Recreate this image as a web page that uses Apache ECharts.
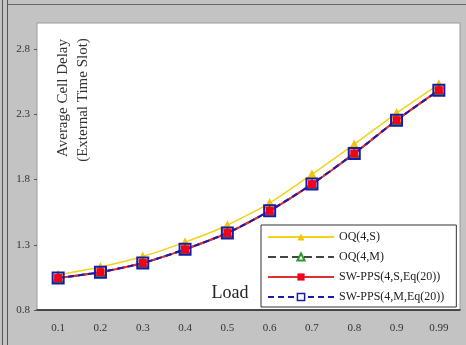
<!DOCTYPE html>
<html>
<head>
<meta charset="utf-8">
<script src="https://cdn.jsdelivr.net/npm/echarts@6/dist/echarts.min.js"></script>
<style>
  html, body { margin: 0; padding: 0; background: #c3c3c3; }
  #main { width: 466px; height: 345px; }
</style>
</head>
<body>
<div id="main"></div>
<script>
// values
var loads = ['0.1', '0.2', '0.3', '0.4', '0.5', '0.6', '0.7', '0.8', '0.9', '0.99'];
var oqS = [1.07, 1.13, 1.21, 1.32, 1.45, 1.62, 1.84, 2.07, 2.31, 2.53];
var oqM = [1.045, 1.09, 1.16, 1.265, 1.39, 1.56, 1.765, 2.0, 2.255, 2.485];
var swS = [1.045, 1.09, 1.16, 1.265, 1.39, 1.56, 1.765, 2.0, 2.255, 2.485];
var swM = [1.045, 1.09, 1.16, 1.265, 1.39, 1.56, 1.765, 2.0, 2.255, 2.485];
var yTicks = [0.8, 1.3, 1.8, 2.3, 2.8];

var serif = '"Liberation Serif", "DejaVu Serif", serif';

var chart = echarts.init(document.getElementById('main'));

var option = {
    backgroundColor: '#c3c3c3',
    animation: false,
    grid: {
        left: 37, right: 6, top: 23, bottom: 35,
        show: true,
        backgroundColor: '#fff',
        borderColor: '#9a9a9a',
        borderWidth: 1
    },
    legend: {
        orient: 'vertical',
        left: 261,
        top: 225,
        padding: [5, 12, 3, 6],
        itemWidth: 66,
        itemHeight: 9,
        itemGap: 6,
        backgroundColor: '#fff',
        borderColor: '#333',
        borderWidth: 1,
        textStyle: { fontFamily: serif, fontSize: 12, color: '#222', lineHeight: 14 },
        data: [
            'OQ(4,S)',
            'OQ(4,M)',
            'SW-PPS(4,S,Eq(20))',
            { name: 'SW-PPS(4,M,Eq(20))', itemStyle: { color: '#fff', borderColor: '#1a1aa8', borderWidth: 1.5 } }
        ]
    },
    xAxis: {
        type: 'category',
        data: loads,
        boundaryGap: true,
        axisLine: { lineStyle: { color: '#222', width: 1.5 } },
        axisTick: { inside: true, length: 4, lineStyle: { color: '#555' } },
        axisLabel: { fontFamily: serif, fontSize: 11, color: '#333', margin: 13 }
    },
    yAxis: {
        type: 'value',
        min: 0.8,
        max: 3.0,
        splitLine: { show: false },
        axisLine: { show: false },
        axisTick: { show: true, length: 3, customValues: yTicks, lineStyle: { color: '#555' } },
        axisLabel: { fontFamily: serif, fontSize: 11, color: '#333', margin: 7, customValues: yTicks }
    },
    graphic: [
        { type: 'line', shape: { x1: 2.5, y1: 0, x2: 2.5, y2: 345 }, style: { stroke: '#555', lineWidth: 1 } },
        { type: 'line', shape: { x1: 7.5, y1: 0, x2: 7.5, y2: 345 }, style: { stroke: '#555', lineWidth: 1 } },
        { type: 'line', shape: { x1: 8, y1: 4.5, x2: 466, y2: 4.5 }, style: { stroke: '#666', lineWidth: 1 } },
        {
            type: 'text', x: 63, y: 98, rotation: Math.PI / 2, z: 10,
            style: { text: 'Average Cell Delay', font: '15px ' + serif, fill: '#333', align: 'center', verticalAlign: 'middle' }
        },
        {
            type: 'text', x: 83, y: 100, rotation: Math.PI / 2, z: 10,
            style: { text: '(External Time Slot)', font: '15px ' + serif, fill: '#333', align: 'center', verticalAlign: 'middle' }
        },
        {
            type: 'text', x: 230, y: 293, z: 10,
            style: { text: 'Load', font: '18px ' + serif, fill: '#222', align: 'center', verticalAlign: 'middle' }
        }
    ],
    series: [
        {
            name: 'OQ(4,S)', type: 'line', data: oqS, smooth: 0.2,
            symbol: 'triangle', symbolSize: 10,
            lineStyle: { color: '#f2d21a', width: 1.5 },
            itemStyle: { color: '#f2c40c' }
        },
        {
            name: 'OQ(4,M)', type: 'line', data: oqM, smooth: 0.2,
            symbol: 'emptyTriangle', symbolSize: 8,
            lineStyle: { color: '#444', width: 2, type: 'dashed' },
            itemStyle: { color: '#2a9a2a', borderColor: '#2a9a2a' }
        },
        {
            name: 'SW-PPS(4,S,Eq(20))', type: 'line', data: swS, smooth: 0.2,
            symbol: 'rect', symbolSize: 8,
            lineStyle: { color: '#e0302a', width: 2 },
            itemStyle: { color: '#f0001c' }
        },
        {
            name: 'SW-PPS(4,M,Eq(20))', type: 'line', data: swM, smooth: 0.2,
            symbol: 'rect', symbolSize: 11,
            lineStyle: { color: '#1a1ab0', width: 2, type: [6, 4] },
            itemStyle: { color: 'rgba(0,0,0,0)', borderColor: '#1a1aa8', borderWidth: 2 }
        }
    ]
};

chart.setOption(option);
</script>
</body>
</html>
